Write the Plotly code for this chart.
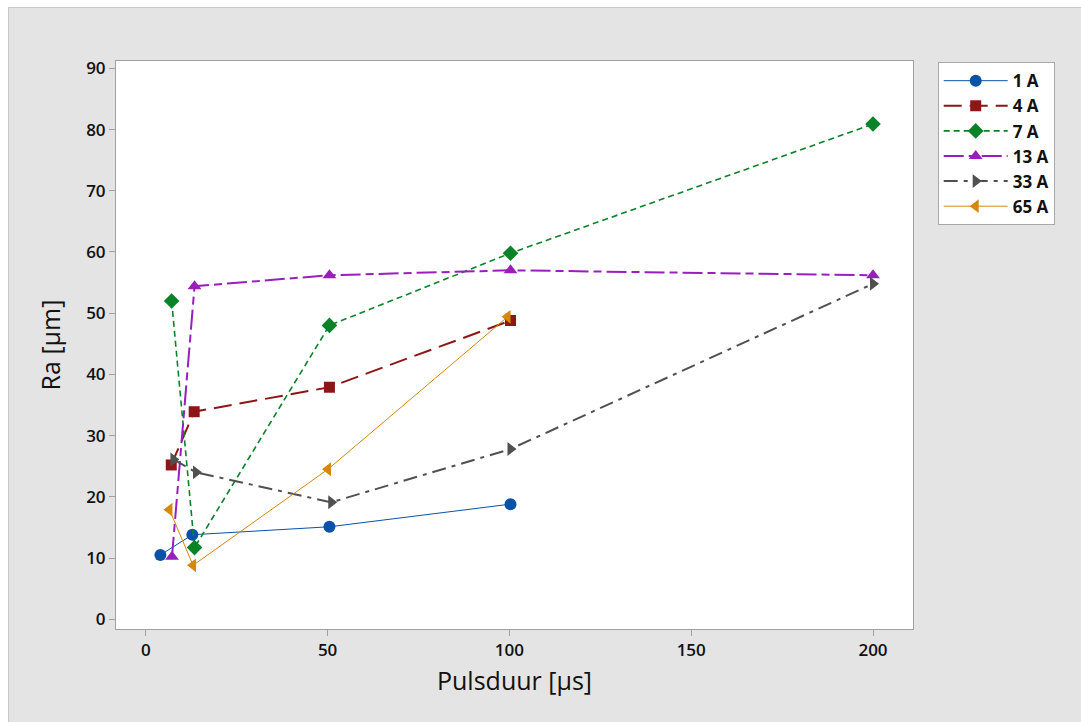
import plotly.graph_objects as go

# Data
x_1A = [4.0, 12.8, 50.5, 100.3]
y_1A = [10.5, 13.8, 15.1, 18.8]
x_4A = [7.0, 13.3, 50.5, 100.3]
y_4A = [25.2, 33.9, 37.9, 48.8]
x_7A = [7.1, 13.4, 50.5, 100.3, 200.0]
y_7A = [52.0, 11.7, 48.0, 59.8, 80.9]
x_13A = [7.2, 13.4, 50.5, 100.3, 200.0]
y_13A = [10.2, 54.4, 56.2, 57.0, 56.2]
x_33A = [7.6, 13.8, 51.0, 100.3, 200.0]
y_33A = [26.1, 24.0, 19.1, 27.8, 54.8]
x_65A = [6.5, 13.0, 50.1, 99.5]
y_65A = [17.9, 8.8, 24.5, 49.4]

series = [
    ("1 A", x_1A, y_1A, "#0A52A8", "solid", 1.0, "circle"),
    ("4 A", x_4A, y_4A, "#8E1616", "18px,8px", 2.0, "square"),
    ("7 A", x_7A, y_7A, "#0A8228", "6px,4px", 1.6, "diamond"),
    ("13 A", x_13A, y_13A, "#9A1EBE", "20px,5px,8px,5px", 2.0, "triangle-up"),
    ("33 A", x_33A, y_33A, "#505050", "14px,6px,4px,6px", 2.0, "triangle-right"),
    ("65 A", x_65A, y_65A, "#D4880C", "solid", 1.0, "triangle-left"),
]

fig = go.Figure()
for name, xs, ys, col, dash, w, sym in series:
    fig.add_trace(go.Scatter(
        x=xs, y=ys, name=name, mode="lines+markers", legendgroup=name,
        line=dict(color=col, width=w, dash=dash),
        marker=dict(symbol=sym, size=12 if sym != "square" else 11, color=col),
    ))

font_family = "Open Sans, DejaVu Sans, sans-serif"

fig.update_layout(
    width=1081, height=722,
    margin=dict(l=116, r=168, t=61, b=93),
    paper_bgcolor="#E4E4E4",
    plot_bgcolor="white",
    font=dict(family=font_family, color="#111111"),
    showlegend=True,
    legend=dict(
        x=1.031, y=0.998, xanchor="left", yanchor="top",
        bgcolor="white", bordercolor="#A8A8A8", borderwidth=1,
        font=dict(size=17, color="#111111", family=font_family, weight=700),
        tracegroupgap=0, itemwidth=64,
    ),
    xaxis=dict(
        range=[-8.2, 211], tickvals=[0, 50, 100, 150, 200],
        ticks="outside", ticklen=6, tickcolor="#A0A0A0",
        showgrid=False, zeroline=False,
        showline=True, linecolor="#A0A0A0", mirror=True,
        tickfont=dict(size=17, color="#111111", weight=600),
        title=dict(text="Pulsduur [µs]", font=dict(size=25, color="#111111"), standoff=12),
    ),
    yaxis=dict(
        range=[-1.6, 91.2], tickvals=[0, 10, 20, 30, 40, 50, 60, 70, 80, 90],
        ticks="outside", ticklen=6, tickcolor="#A0A0A0",
        showgrid=False, zeroline=False,
        showline=True, linecolor="#A0A0A0", mirror=True,
        tickfont=dict(size=17, color="#111111", weight=600),
        title=dict(text="Ra [µm]", font=dict(size=25, color="#111111"), standoff=18),
    ),
    shapes=[
        dict(type="rect", xref="paper", yref="paper",
             x0=-0.2, x1=(8 - 116) / 797, y0=-0.3, y1=1.3,
             fillcolor="white", line=dict(width=0), layer="below"),
        dict(type="rect", xref="paper", yref="paper",
             x0=-0.2, x1=1.3, y0=(629 - 7) / 568, y1=1.3,
             fillcolor="white", line=dict(width=0), layer="below"),
        dict(type="line", xref="paper", yref="paper",
             x0=(8.5 - 116) / 797, x1=(8.5 - 116) / 797, y0=-0.3, y1=(629 - 7.5) / 568,
             line=dict(color="#C8C8C8", width=1)),
        dict(type="line", xref="paper", yref="paper",
             x0=(8.5 - 116) / 797, x1=1.3, y0=(629 - 7.5) / 568, y1=(629 - 7.5) / 568,
             line=dict(color="#C8C8C8", width=1)),
    ],
)

fig.write_html("out.html")
